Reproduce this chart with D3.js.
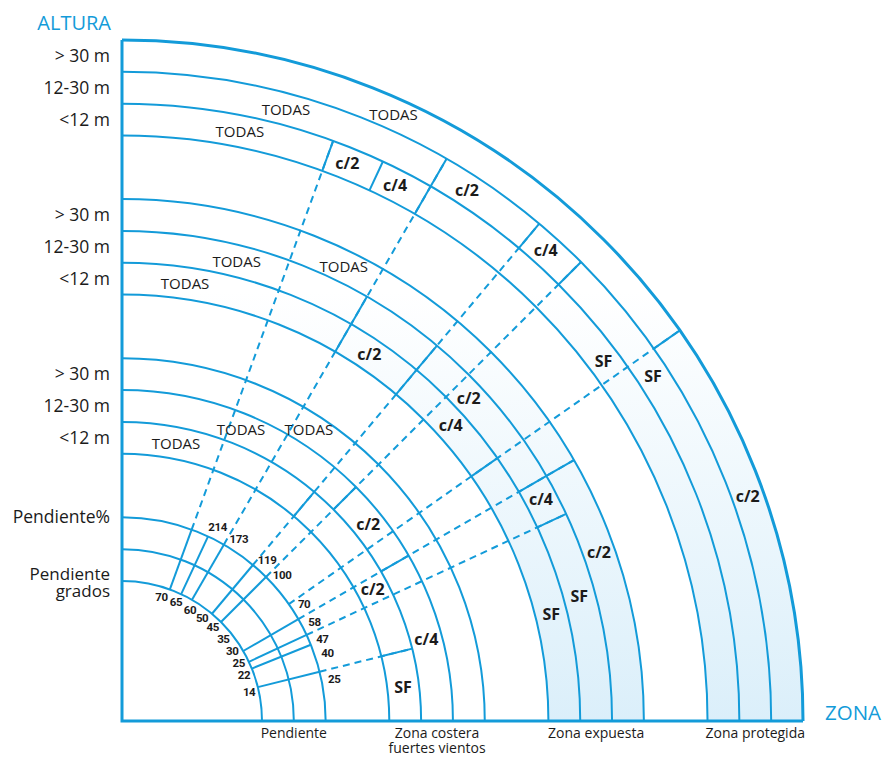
<!DOCTYPE html>
<html>
<head>
<meta charset="utf-8">
<script src="https://cdn.jsdelivr.net/npm/d3@7"></script>
<style>
  body { margin: 0; background: #fff; }
  svg { display: block; font-family: "Open Sans", Lato, sans-serif; }
</style>
</head>
<body>
<script>
// zones along the bottom axis (inner to outer) and height bands (inner to outer)
var zones = ["Pendiente", "Zona costera\nfuertes vientos", "Zona expuesta", "Zona protegida"];
var heights = ["<12 m", "12-30 m", "> 30 m"];

// slope scale: degrees and the matching percentages
var slopeDeg = [14, 22, 25, 30, 35, 45, 50, 60, 65, 70];
var slopePct = [25, 40, 47, 58, 70, 100, 119, 173, 214];
var tickDeg = [14, 22, 25, 30, 45, 50, 60, 65, 70];   // solid ticks in the slope rings
var guideDeg = [14, 25, 30, 35, 45, 50, 60, 70];      // dashed guide lines

// class limits (degrees) for each height band: <12, 12-30, >30
var costeraBreaks = [[14, 50], [30, 45], []];
var costeraClasses = [["SF", "c/2", "TODAS"], ["c/4", "c/2", "TODAS"], ["TODAS"]];
var expuestaBreaks = [[35, 50, 60], [25, 30, 50, 60], [30]];
var expuestaClasses = [["SF", "c/4", "c/2", "TODAS"], ["SF", "c/4", "c/2", "", "TODAS"], ["c/2", "TODAS"]];
var protegidaBreaks = [[60, 65, 70], [45, 50, 60], [35]];
var protegidaClasses = [["SF", "c/4", "c/2", "TODAS"], ["SF", "c/4", "c/2", "TODAS"], ["c/2", "TODAS"]];

// where the class names sit (degrees), layout only
var costeraLabelAng = [[7, 27.7, 79], [15, 38.6, 67.8], [57.4]];
var expuestaLabelAng = [[14, 42, 56, 81.8], [15.3, 27.9, 43, 0, 76], [19.5, 64]];
var protegidaLabelAng = [[36.8, 63, 68, 78.7], [33, 48, 57, 75], [19.8, 65.9]];
var degLabelAng = [13, 20.7, 26.6, 32.4, 39, 45.9, 52.1, 58.6, 65.6, 72.4];
var pctLabelAng = [11.2, 18.3, 22.2, 27.2, 32.7, 42.3, 47.9, 57.3, 63.8];

var blue = "#139bd9";
var ink = "#1b1b1b";
var cx = 122, cy = 721;

var zoneDefs = [
  {start: 4, breaks: costeraBreaks, classes: costeraClasses, labelAng: costeraLabelAng},
  {start: 9, breaks: expuestaBreaks, classes: expuestaClasses, labelAng: expuestaLabelAng},
  {start: 14, breaks: protegidaBreaks, classes: protegidaClasses, labelAng: protegidaLabelAng}
];
var zoneMid = [1, 5.5, 10.5, 15.5];

// ring index -> radius, slope degrees -> d3 angle
var ring = d3.scaleLinear().domain([0, 17]).range([140, 681]);
var ang = d3.scaleLinear().domain([0, 90]).range([Math.PI / 2, 0]);
function pt(deg, r) { return d3.pointRadial(ang(deg), r); }

var svg = d3.select("body").append("svg")
    .attr("width", 885)
    .attr("height", 758);

var defs = svg.append("defs");
var grad = defs.append("linearGradient")
    .attr("id", "band")
    .attr("gradientUnits", "userSpaceOnUse")
    .attr("x1", 0).attr("y1", -430).attr("x2", 0).attr("y2", 0);
grad.append("stop").attr("offset", 0).attr("stop-color", "#ffffff");
grad.append("stop").attr("offset", 1).attr("stop-color", "#dbeffa");

var g = svg.append("g").attr("transform", "translate(" + cx + "," + cy + ")");

// shaded bands for exposed and protected zones
var band = d3.arc().startAngle(0).endAngle(Math.PI / 2);
[9, 14].forEach(function(s) {
  g.append("path")
    .attr("d", band({innerRadius: ring(s), outerRadius: ring(s + 3)}))
    .attr("fill", "url(#band)");
});

// solid segments: [deg, r0, r1]
var solids = [];
tickDeg.forEach(function(d) { solids.push([d, ring(0), ring(2)]); });
zoneDefs.forEach(function(z) {
  z.breaks.forEach(function(bs, h) {
    bs.forEach(function(d) { solids.push([d, ring(z.start + h), ring(z.start + h + 1)]); });
  });
});

// dashed guides from the slope ring to the outermost solid of that angle
guideDeg.forEach(function(d) {
  var rMax = d3.max(solids.filter(function(s) { return s[0] === d; }), function(s) { return s[2]; });
  var a = pt(d, ring(2)), b = pt(d, rMax);
  g.append("line")
    .attr("x1", a[0]).attr("y1", a[1]).attr("x2", b[0]).attr("y2", b[1])
    .attr("stroke", blue).attr("stroke-width", 2)
    .attr("stroke-dasharray", "7,5");
});

solids.forEach(function(s) {
  var a = pt(s[0], s[1]), b = pt(s[0], s[2]);
  g.append("line")
    .attr("x1", a[0]).attr("y1", a[1]).attr("x2", b[0]).attr("y2", b[1])
    .attr("stroke", blue).attr("stroke-width", 2);
});

// rings
var rings = [0, 1, 2, 4, 5, 6, 7, 9, 10, 11, 12, 14, 15, 16, 17];
rings.forEach(function(i) {
  var r = ring(i);
  var p = d3.path();
  p.moveTo(0, -r);
  p.arc(0, 0, r, -Math.PI / 2, 0);
  g.append("path")
    .attr("d", p.toString())
    .attr("fill", "none")
    .attr("stroke", blue)
    .attr("stroke-width", i === 17 ? 3 : 2);
});

// axes
g.append("path")
  .attr("d", "M0," + (-ring(17)) + "V0H" + ring(17))
  .attr("fill", "none")
  .attr("stroke", blue)
  .attr("stroke-width", 3);

// class names
zoneDefs.forEach(function(z) {
  z.classes.forEach(function(cls, h) {
    var r = ring(z.start + h + 0.5);
    cls.forEach(function(c, k) {
      if (!c) return;
      var p = pt(z.labelAng[h][k], r);
      g.append("text")
        .attr("x", p[0]).attr("y", p[1])
        .attr("text-anchor", "middle")
        .attr("dominant-baseline", "central")
        .attr("fill", ink)
        .style("font-size", c === "TODAS" ? "15px" : "16px")
        .style("font-weight", c === "TODAS" ? 400 : 700)
        .text(c);
    });
  });
});

// slope scale numbers
function smallLabel(p, t) {
  g.append("text")
    .attr("x", p[0]).attr("y", p[1])
    .attr("text-anchor", "middle")
    .attr("dominant-baseline", "central")
    .attr("fill", ink)
    .style("font-family", "Roboto, sans-serif")
    .style("font-size", "11.5px")
    .style("font-weight", 700)
    .style("letter-spacing", "-0.4px")
    .text(t);
}
slopeDeg.forEach(function(d, i) { smallLabel(pt(degLabelAng[i], ring(-0.3)), d); });
slopePct.forEach(function(v, i) { smallLabel(pt(pctLabelAng[i], ring(2.4)), v); });

// multi-line text as one element
function multiText(x, y, lines, lineH, anchor, size) {
  var t = g.append("text")
    .attr("x", x).attr("y", y)
    .attr("text-anchor", anchor)
    .attr("fill", ink)
    .style("font-size", size);
  lines.forEach(function(s, i) {
    t.append("tspan").attr("x", x).attr("dy", i === 0 ? 0 : lineH).text(s);
  });
}

// height labels on the left
zoneDefs.forEach(function(z) {
  heights.forEach(function(hLabel, h) {
    multiText(-12, -ring(z.start + h + 0.5) + 6, [hLabel], 0, "end", "17.5px");
  });
});
multiText(-12, -ring(2) + 6, ["Pendiente%"], 0, "end", "17.5px");
multiText(-12, -ring(0) - 1, ["Pendiente", "grados"], 17, "end", "17px");

// zone labels under the axis
zones.forEach(function(zLabel, i) {
  multiText(ring(zoneMid[i]), 17, zLabel.split("\n"), 15, "middle", "14px");
});

// axis titles
svg.append("text")
  .attr("x", 111).attr("y", 30)
  .attr("text-anchor", "end")
  .attr("fill", blue)
  .style("font-size", "20px")
  .text("ALTURA");
svg.append("text")
  .attr("x", 825).attr("y", 720)
  .attr("fill", blue)
  .style("font-size", "20.5px")
  .text("ZONA");
</script>
</body>
</html>
